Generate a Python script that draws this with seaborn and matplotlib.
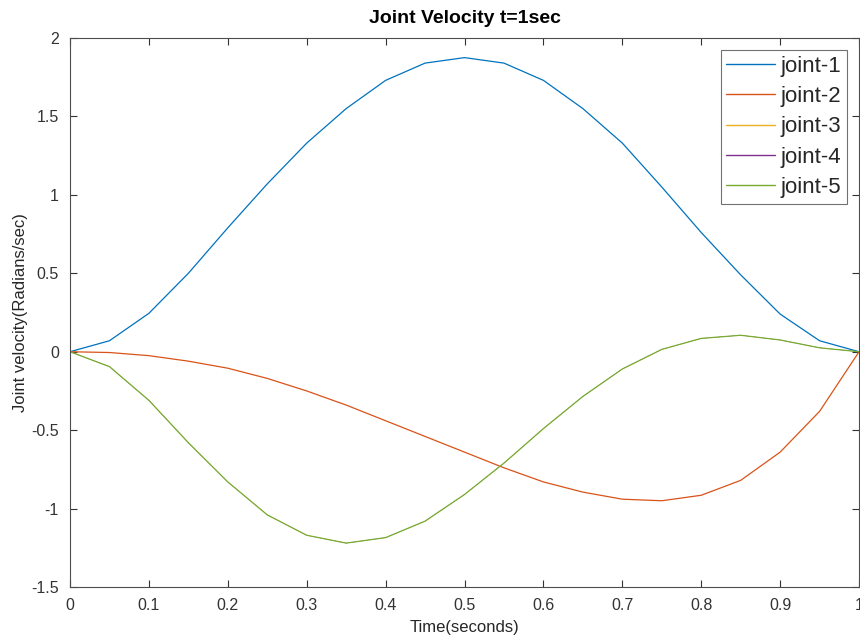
import numpy as np
import pandas as pd
import matplotlib
matplotlib.use("Agg")
import matplotlib.pyplot as plt
import seaborn as sns

time = [0.0, 0.05, 0.1, 0.15, 0.2, 0.25, 0.3, 0.35, 0.4, 0.45, 0.5,
        0.55, 0.6, 0.65, 0.7, 0.75, 0.8, 0.85, 0.9, 0.95, 1.0]
joint1 = [0.0, 0.07, 0.245, 0.50, 0.79, 1.07, 1.33, 1.55, 1.73, 1.84, 1.875,
          1.84, 1.73, 1.55, 1.33, 1.05, 0.76, 0.49, 0.24, 0.07, 0.0]
joint2 = [0.0, -0.005, -0.025, -0.06, -0.105, -0.17, -0.25, -0.34, -0.44, -0.54, -0.64,
          -0.74, -0.83, -0.895, -0.94, -0.95, -0.915, -0.82, -0.64, -0.38, 0.0]
joint5 = [0.0, -0.095, -0.31, -0.58, -0.83, -1.04, -1.17, -1.22, -1.185, -1.08, -0.91,
          -0.71, -0.49, -0.285, -0.11, 0.015, 0.085, 0.105, 0.075, 0.025, 0.0]
joint3 = list(joint5)
joint4 = list(joint5)
labels = ["joint-1", "joint-2", "joint-3", "joint-4", "joint-5"]
colors = ["#0072BD", "#D95319", "#EDB120", "#7E2F8E", "#77AC30"]

series = [joint1, joint2, joint3, joint4, joint5]
df = pd.concat([pd.DataFrame({"t": time, "v": s, "joint": lab})
                for s, lab in zip(series, labels)], ignore_index=True)

sns.set_theme(style="white")
plt.rcParams['font.family'] = ['Liberation Sans', 'DejaVu Sans']

fig = plt.figure(figsize=(8.6, 6.41), dpi=100)
ax = fig.add_axes([0.0814, 0.0842, 0.9175, 0.8565])

sns.lineplot(data=df, x="t", y="v", hue="joint", hue_order=labels,
             palette=colors, linewidth=0.9, ax=ax, sort=False, legend=True)

# joint-3 and joint-4 lie under joint-5; keep them thin so they stay hidden
for ln in ax.lines[2:4]:
    ln.set_linewidth(0.2)

ax.set_xlim(0, 1)
ax.set_ylim(-1.5, 2)
ax.set_xticks(np.arange(0, 1.01, 0.1))
ax.set_xticklabels(["0", "0.1", "0.2", "0.3", "0.4", "0.5", "0.6", "0.7", "0.8", "0.9", "1"])
ax.set_yticks(np.arange(-1.5, 2.01, 0.5))
ax.set_yticklabels(["-1.5", "-1", "-0.5", "0", "0.5", "1", "1.5", "2"])
ax.tick_params(direction="in", length=5, width=0.8, colors="#333333",
               labelsize=11.5, top=True, right=True, bottom=True, left=True, pad=8)
for sp in ax.spines.values():
    sp.set_color("#4d4d4d")
    sp.set_linewidth(0.8)

ax.set_xlabel("Time(seconds)", fontsize=12, color="#262626", labelpad=5)
ax.set_ylabel("Joint velocity(Radians/sec)", fontsize=12, color="#262626", labelpad=2)
ax.set_title("Joint Velocity t=1sec", fontsize=14, fontweight="bold", color="black", pad=11)

leg = ax.legend(loc="upper right", fontsize=16, frameon=True, fancybox=False,
                edgecolor="#4d4d4d", handlelength=2.2, handletextpad=0.25,
                borderpad=0.25, labelspacing=0.42, borderaxespad=0.55)
leg.get_frame().set_linewidth(0.8)
for line in leg.get_lines():
    line.set_linewidth(1.0)

fig.savefig("out.png", dpi=100)
